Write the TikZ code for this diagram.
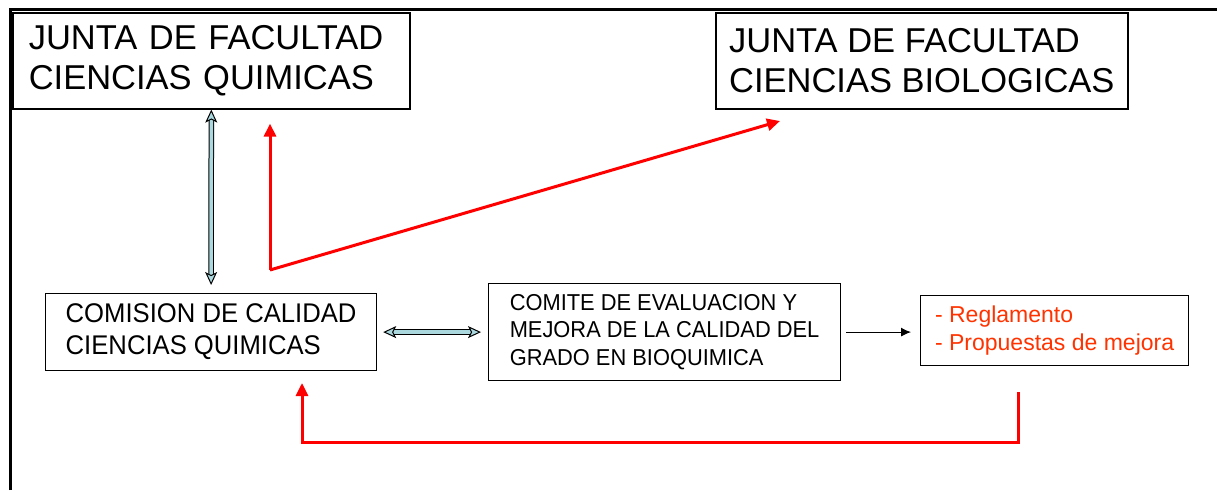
\documentclass[tikz,border=0pt]{standalone}
\usepackage{fontspec}
\setmainfont{Liberation Sans}
\usetikzlibrary{arrows.meta}

\definecolor{arrowblue}{RGB}{170,216,222}
\definecolor{notered}{RGB}{255,51,0}

\begin{document}
\begin{tikzpicture}[x=1pt, y=1pt,
    box/.style={draw=black, line width=1.2pt, anchor=north west, align=left, inner xsep=4pt, inner ysep=0pt},
    bluearrow/.style={draw=black, line width=1pt, double=arrowblue, double distance=3.5pt,
        {Stealth[length=13pt, width=12pt, fill=arrowblue, inset=3pt]}-{Stealth[length=13pt, width=12pt, fill=arrowblue, inset=3pt]}},
    redarrow/.style={draw=red, line width=3pt, -{Triangle[length=13pt, width=12pt]}}]

    \useasboundingbox (0,0) rectangle (1217,490);
    \draw[line width=3pt] (10,0) -- (10,480) -- (1217,480);

    \node[box, line width=1.6pt, minimum width=397pt, minimum height=96pt, inner xsep=16pt, text width=365pt,
        font=\fontsize{34.5}{40}\selectfont] (jq) at (12,478) {JUNTA DE FACULTAD\\CIENCIAS QUIMICAS};
    \node[box, line width=1.6pt, minimum width=412pt, minimum height=96pt,
        font=\fontsize{34.5}{40}\selectfont] (jb) at (715,478) {JUNTA DE FACULTAD\\CIENCIAS BIOLOGICAS};

    \node[box, minimum width=331pt, minimum height=77pt,
        font=\fontsize{27}{32}\selectfont\addfontfeature{FakeStretch=0.95}] (cq) at (45,197) {COMISION DE CALIDAD\\CIENCIAS QUIMICAS};
    \node[box, minimum width=352pt, minimum height=97pt,
        font=\fontsize{23}{27.5}\selectfont\addfontfeature{FakeStretch=0.95}] (cm) at (488,207) {COMITE DE EVALUACION Y\\MEJORA DE LA CALIDAD DEL\\GRADO EN BIOQUIMICA};
    \node[box, minimum width=268pt, minimum height=70pt, text=notered,
        font=\fontsize{23}{28}\selectfont] (rg) at (920,195) {- Reglamento\\- Propuestas de mejora};

    % flechas azules
    \draw[bluearrow, shorten >=8pt] (jq.south) -- (cq.north);
    \draw[bluearrow, shorten <=6pt, shorten >=7pt] (cq.east) -- (cm.west);

    % flechas rojas
    \coordinate (split) at (270,220);
    \coordinate (bio) at (780,369);
    \draw[redarrow, shorten >=14pt] (split) -- (split |- jq.south);
    \draw[redarrow] (split) -- (bio);

    \coordinate (back) at (1018,98);
    \draw[redarrow, shorten >=13pt] (back) -- (1018,48) -- (302,48) -- (302,120);

    \draw[line width=1pt, -{Latex[length=10pt, width=9pt]}, shorten <=5pt, shorten >=9pt] (cm.east) -- (cm.east -| rg.west);

\end{tikzpicture}
\end{document}
